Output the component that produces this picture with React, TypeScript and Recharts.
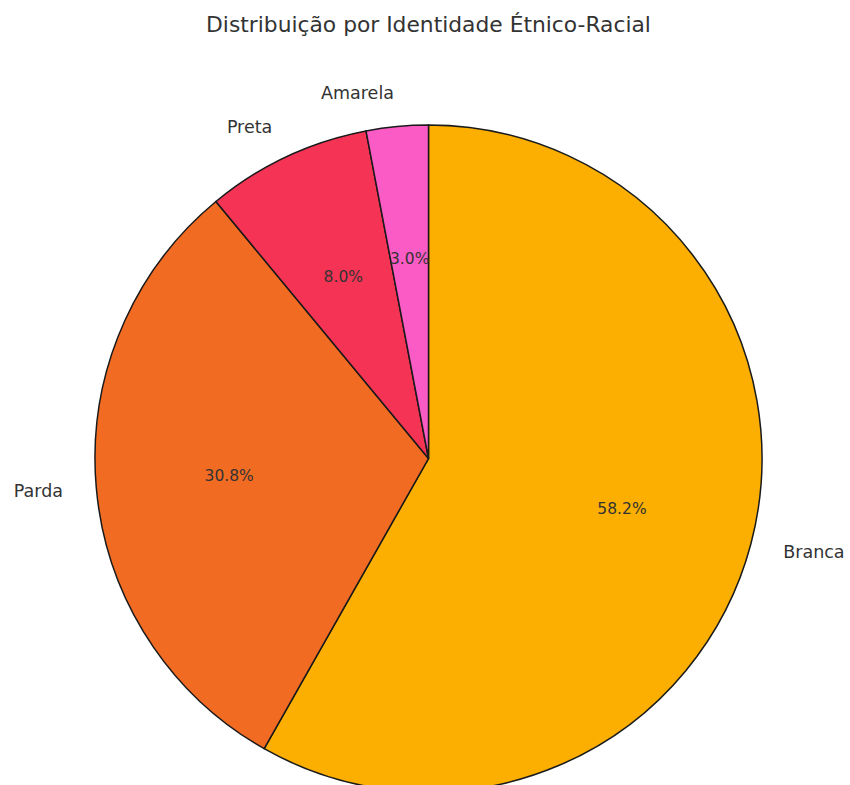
import React from 'react';
import { PieChart, Pie, Cell } from 'recharts';

const categories = ['Branca', 'Parda', 'Preta', 'Amarela'];
const shares = [58.2, 30.8, 8.0, 3.0];
const colors = ['#FCAF00', '#F26B22', '#F53455', '#FB5BC4'];

const data = categories.map((name, i) => ({ name, value: shares[i] }));

const RAD = Math.PI / 180;
const FONT = 'DejaVu Sans, sans-serif';

// matplotlib-style labels: name at 1.1r, percentage at 0.6r
const renderLabel = (props: any) => {
  const { cx, cy, midAngle, outerRadius, name, value } = props;
  const cos = Math.cos(-midAngle * RAD);
  const sin = Math.sin(-midAngle * RAD);
  const lx = cx + outerRadius * 1.1 * cos;
  const ly = cy + outerRadius * 1.1 * sin;
  const px = cx + outerRadius * 0.6 * cos;
  const py = cy + outerRadius * 0.6 * sin;
  return (
    <g>
      <text x={lx} y={ly} textAnchor={cos >= 0 ? 'start' : 'end'} dominantBaseline="central"
        fontFamily={FONT} fontSize={17.5} fill="#333">
        {name}
      </text>
      <text x={px} y={py} textAnchor="middle" dominantBaseline="central"
        fontFamily={FONT} fontSize={15.5} fill="#333">
        {value.toFixed(1)}%
      </text>
    </g>
  );
};

export default function App() {
  return (
    <div style={{ position: 'relative', width: 850, height: 785, background: '#fff', overflow: 'hidden' }}>
      <style>{'body{margin:0}'}</style>
      <div style={{ position: 'absolute', top: 14, left: 0, width: 857, textAlign: 'center',
        fontFamily: FONT, fontSize: 21.8, lineHeight: 1, color: '#333' }}>
        Distribuição por Identidade Étnico-Racial
      </div>
      <PieChart width={850} height={785} margin={{ top: 0, right: 0, bottom: 0, left: 0 }}
        style={{ position: 'absolute', top: 0, left: 0 }}>
        <Pie
          data={data}
          dataKey="value"
          nameKey="name"
          cx={428.5}
          cy={458.5}
          outerRadius={333.5}
          startAngle={90}
          endAngle={-270}
          stroke="#1a1a1a"
          strokeWidth={1.5}
          label={renderLabel}
          labelLine={false}
          isAnimationActive={false}
        >
          {data.map((d, i) => (
            <Cell key={d.name} fill={colors[i]} />
          ))}
        </Pie>
      </PieChart>
    </div>
  );
}
